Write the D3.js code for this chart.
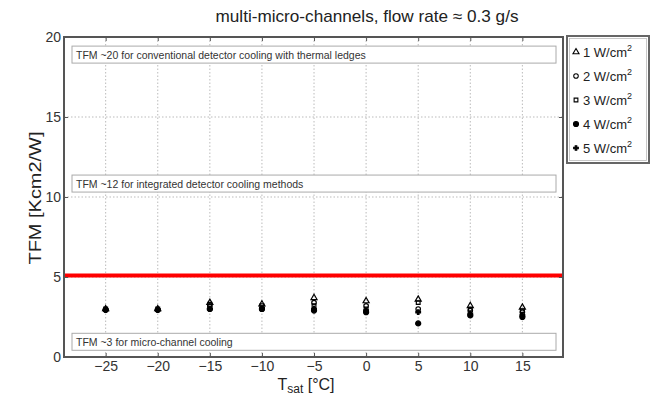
<!DOCTYPE html>
<html>
<head>
<meta charset="utf-8">
<script src="https://cdn.jsdelivr.net/npm/d3@7"></script>
<style>
  body { margin: 0; background: #fff; }
  svg { font-family: "Liberation Sans", Arial, sans-serif; }
  .grid line { stroke: #bbb; stroke-dasharray: 1.5 2; }
  .axis path, .axis line { stroke: #555; }
  .axis text { fill: #333; font-size: 14px; }
</style>
</head>
<body>
<div id="chart"></div>
<script>
// data
const tsat = [-25, -20, -15, -10, -5, 0, 5, 10, 15];
const series = ['1 W/cm', '2 W/cm', '3 W/cm', '4 W/cm', '5 W/cm'];
const tfm1 = [3.0, 3.0, 3.4, 3.3, 3.7, 3.5, 3.6, 3.2, 3.1];
const tfm2 = [2.95, 2.95, 3.2, 3.0, 3.4, 3.2, 3.0, 2.9, 2.8];
const tfm3 = [3.0, 3.0, 3.3, 3.2, 3.2, 3.0, 3.4, 3.0, 2.9];
const tfm4 = [2.95, 2.95, 3.0, 3.0, 2.9, 2.8, 2.1, 2.6, 2.5];
const tfm5 = [2.95, 2.95, 3.0, 3.05, 3.0, 2.9, 2.8, 2.7, 2.6];
const xTicks = [-25, -20, -15, -10, -5, 0, 5, 10, 15];
const yTicks = [0, 5, 10, 15, 20];
const limit = 5.1;
const notes = [
  { y: 18.9, text: 'TFM ~20 for conventional detector cooling with thermal ledges' },
  { y: 10.84, text: 'TFM ~12 for integrated detector cooling methods' },
  { y: 0.95, text: 'TFM ~3 for micro-channel cooling' }
];

const W = 651, H = 395;
const margin = { top: 37, right: 88, bottom: 38, left: 64 };
const width = W - margin.left - margin.right;
const height = H - margin.top - margin.bottom;

const x = d3.scaleLinear().domain([-29, 18.9]).range([0, width]);
const y = d3.scaleLinear().domain([0, 20]).range([height, 0]);

const svg = d3.select('#chart').append('svg')
  .attr('width', W).attr('height', H);

svg.append('text')
  .attr('x', 367).attr('y', 22)
  .attr('text-anchor', 'middle')
  .attr('textLength', 303).attr('lengthAdjust', 'spacingAndGlyphs')
  .style('font-size', '17px').style('fill', '#222')
  .text('multi-micro-channels, flow rate \u2248 0.3 g/s');

const g = svg.append('g').attr('transform', `translate(${margin.left},${margin.top})`);

// dotted grid
g.append('g').attr('class', 'grid')
  .selectAll('line.v').data(xTicks).enter().append('line')
  .attr('x1', d => x(d)).attr('x2', d => x(d))
  .attr('y1', 0).attr('y2', height);
g.append('g').attr('class', 'grid')
  .selectAll('line.h').data(yTicks.slice(1, -1)).enter().append('line')
  .attr('x1', 0).attr('x2', width)
  .attr('y1', d => y(d)).attr('y2', d => y(d));

// annotation boxes
const note = g.selectAll('.note').data(notes).enter().append('g').attr('class', 'note');
note.append('rect')
  .attr('x', 8).attr('y', d => y(d.y) - 8.5)
  .attr('width', width - 15).attr('height', 17)
  .style('fill', '#fff').style('stroke', '#aaa');
note.append('text')
  .attr('x', 12).attr('y', d => y(d.y) + 4)
  .style('font-size', '10.5px').style('fill', '#333')
  .text(d => d.text);

// red limit line
g.append('line')
  .attr('x1', 0).attr('x2', width)
  .attr('y1', y(limit)).attr('y2', y(limit))
  .style('stroke', '#f00').style('stroke-width', 4);

// markers
const sym = [
  { type: d3.symbolTriangle, size: 16, fill: 'none' },
  { type: d3.symbolCircle, size: 16, fill: 'none' },
  { type: d3.symbolSquare, size: 14, fill: 'none' },
  { type: d3.symbolCircle, size: 20, fill: '#000' },
  { type: d3.symbolCross, size: 12, fill: '#000' }
];
const allSeries = [tfm1, tfm2, tfm3, tfm4, tfm5];
allSeries.forEach((vals, k) => {
  g.append('g').selectAll('path').data(vals).enter().append('path')
    .attr('d', d3.symbol().type(sym[k].type).size(sym[k].size))
    .attr('transform', (d, i) => `translate(${x(tsat[i])},${y(d)})`)
    .style('fill', sym[k].fill)
    .style('stroke', '#000').style('stroke-width', 1.2);
});

// axes with inward ticks
g.append('g').attr('class', 'axis').attr('transform', `translate(0,${height})`)
  .call(d3.axisBottom(x).tickValues(xTicks).tickSizeInner(-4).tickSizeOuter(0).tickPadding(4))
  .call(a => a.select('.domain').remove());
g.append('g').attr('class', 'axis')
  .call(d3.axisTop(x).tickValues(xTicks).tickSizeInner(-4).tickSizeOuter(0).tickFormat(''))
  .call(a => a.select('.domain').remove());
g.append('g').attr('class', 'axis')
  .call(d3.axisLeft(y).tickValues(yTicks).tickSizeInner(-4).tickSizeOuter(0).tickPadding(3))
  .call(a => a.select('.domain').remove())
  .call(a => a.selectAll('text').attr('dy', '0.35em'));
g.append('g').attr('class', 'axis').attr('transform', `translate(${width},0)`)
  .call(d3.axisRight(y).tickValues(yTicks).tickSizeInner(-4).tickSizeOuter(0).tickFormat(''))
  .call(a => a.select('.domain').remove());

g.append('rect')
  .attr('width', width).attr('height', height)
  .style('fill', 'none').style('stroke', '#555').style('stroke-width', 2);

// axis titles
svg.append('text')
  .attr('transform', `translate(41,${margin.top + height / 2 + 1}) rotate(-90)`)
  .attr('text-anchor', 'middle')
  .attr('textLength', 133).attr('lengthAdjust', 'spacingAndGlyphs')
  .style('font-size', '17px').style('fill', '#222')
  .text('TFM [Kcm2/W]');
const xl = svg.append('text')
  .attr('x', 306).attr('y', 390)
  .attr('text-anchor', 'middle')
  .style('font-size', '16px').style('fill', '#222');
xl.append('tspan').text('T');
xl.append('tspan').attr('dy', 3).style('font-size', '12px').text('sat');
xl.append('tspan').attr('dy', -3).text('  [\u00b0C]');

// legend
const lg = svg.append('g').attr('transform', 'translate(567,36)');
lg.append('rect').attr('width', 82).attr('height', 127)
  .style('fill', '#fff').style('stroke', '#666').style('stroke-width', 2);
lg.append('rect').attr('x', 2.5).attr('y', 2.5).attr('width', 77).attr('height', 122)
  .style('fill', 'none').style('stroke', '#bbb').style('stroke-width', 0.8);
const item = lg.selectAll('.item').data(series).enter().append('g')
  .attr('transform', (d, i) => `translate(0,${21 + i * 24})`);
item.append('path')
  .attr('d', (d, i) => d3.symbol().type(sym[i].type).size(sym[i].size)())
  .attr('transform', 'translate(9,-5)')
  .style('fill', (d, i) => sym[i].fill)
  .style('stroke', '#000').style('stroke-width', 1.1);
const lt = item.append('text').attr('x', 16).attr('y', 0)
  .style('font-size', '13px').style('fill', '#222');
lt.append('tspan').text(d => d);
lt.append('tspan').attr('dy', -6).style('font-size', '9px').text('2');
</script>
</body>
</html>
